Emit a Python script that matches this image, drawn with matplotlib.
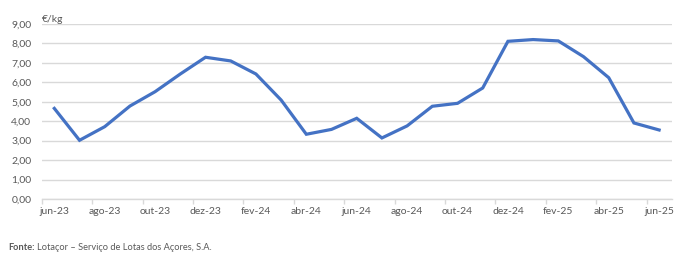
import matplotlib
matplotlib.use("Agg")
import matplotlib.pyplot as plt
import matplotlib.ticker as ticker

plt.rcParams['font.family'] = ['Lato', 'DejaVu Sans']

months = ["jun-23", "jul-23", "ago-23", "set-23", "out-23", "nov-23", "dez-23",
          "jan-24", "fev-24", "mar-24", "abr-24", "mai-24", "jun-24", "jul-24",
          "ago-24", "set-24", "out-24", "nov-24", "dez-24", "jan-25", "fev-25",
          "mar-25", "abr-25", "mai-25", "jun-25"]
price = [4.66, 3.02, 3.72, 4.78, 5.52, 6.43, 7.29, 7.10, 6.43, 5.09, 3.33, 3.58,
         4.15, 3.14, 3.76, 4.77, 4.92, 5.71, 8.11, 8.20, 8.13, 7.32, 6.24, 3.91, 3.55]
y_ticks = [0, 1, 2, 3, 4, 5, 6, 7, 8, 9]

grey_txt = "#595959"
grid_col = "#D9D9D9"

fig = plt.figure(figsize=(6.93, 2.71), dpi=100)
ax = fig.add_axes([0.0602, 0.2657, 0.9091, 0.6457])

x = list(range(len(months)))
ax.plot(x, price, color="#4472C4", lw=2.3, solid_joinstyle="miter", zorder=3)

ax.set_xlim(-0.5, len(months) - 0.5)
ax.set_ylim(0, 9)
ax.set_yticks(y_ticks)
ax.set_yticklabels(["%d,00" % v for v in y_ticks])
ax.yaxis.grid(True, color=grid_col, lw=1.0)
ax.set_axisbelow(True)

# boundary tick marks every two months, labels centred on the months
ax.xaxis.set_major_locator(ticker.FixedLocator([i - 0.5 for i in range(0, len(months), 2)]))
ax.xaxis.set_major_formatter(ticker.NullFormatter())
ax.xaxis.set_minor_locator(ticker.FixedLocator(x[::2]))
ax.xaxis.set_minor_formatter(ticker.FixedFormatter(months[::2]))
ax.tick_params(axis="x", which="major", length=3.5, color=grid_col, width=1.0)
ax.tick_params(axis="x", which="minor", length=0, pad=5.5, labelsize=7.5, labelcolor=grey_txt)
ax.tick_params(axis="y", length=0, pad=7.5, labelsize=7.5, labelcolor=grey_txt)

for s in ["top", "right", "left"]:
    ax.spines[s].set_visible(False)
ax.spines["bottom"].set_color(grid_col)
ax.spines["bottom"].set_linewidth(1.0)

fig.text(42 / 693, 1 - 20 / 271, "€/kg", fontsize=7.5, color=grey_txt, va="center", ha="left")

fig.text(8 / 693, 1 - 248 / 271, "Fonte:", fontsize=6.7, color=grey_txt, fontweight="bold",
         va="center", ha="left")
fig.text(37 / 693, 1 - 248 / 271, "Lotaçor – Serviço de Lotas dos Açores, S.A.", fontsize=6.7,
         color=grey_txt, va="center", ha="left")

fig.savefig("out.png", dpi=100)
